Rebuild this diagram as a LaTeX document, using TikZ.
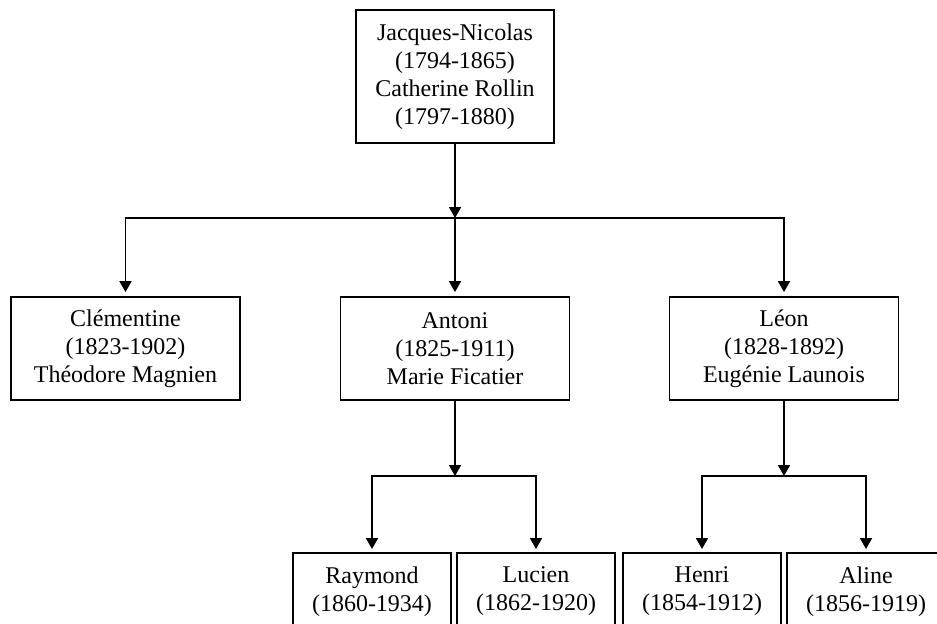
\documentclass[tikz,border=0pt]{standalone}
\usepackage{fontspec}
\setmainfont{Liberation Serif}
\usetikzlibrary{arrows.meta}
\begin{document}
\begin{tikzpicture}[x = 0.5pt,y = -0.5pt,
        every node/.style = {draw = black,line width = 0.9pt,align = center,
            font = \fontsize{12}{14}\selectfont},
        couple/.style = {minimum width = 114.5pt,minimum height = 51.5pt},
        child/.style = {anchor = north,minimum width = 79pt,inner ysep = 7pt},
        link/.style = {line width = 0.9pt,-{Triangle[length = 5.5pt,width = 6pt]}}]
        \useasboundingbox (0,0) rectangle (937,623);
        \clip (0,0) rectangle (937,623);
        \node [minimum width = 99pt,minimum height = 66.5pt] (root) at (455,76.5)
            {Jacques-Nicolas\\(1794-1865)\\Catherine Rollin\\(1797-1880)};
        \node [couple] (clem) at (125.5,348.5) {Cl\'ementine\\(1823-1902)\\Th\'eodore Magnien};
        \node [couple] (antoni) at (455,348.5) {Antoni\\(1825-1911)\\Marie Ficatier};
        \node [couple] (leon) at (784,348.5) {L\'eon\\(1828-1892)\\Eug\'enie Launois};
        \node [child] (raymond) at (372,552) {Raymond\\(1860-1934)};
        \node [child] (lucien) at (536,552) {Lucien\\(1862-1920)};
        \node [child] (henri) at (702,552) {Henri\\(1854-1912)};
        \node [child] (aline) at (866,552) {Aline\\(1856-1919)};
        \coordinate (fork) at (455,218);
        \coordinate (forkA) at (455,476);
        \coordinate (forkL) at (784,476);
        \draw [link] (root) -- (fork);
        \draw [link,shorten > = 2pt] (fork) -| (clem);
        \draw [link,shorten > = 2pt] (fork) -- (antoni);
        \draw [link,shorten > = 2pt] (fork) -| (leon);
        \draw [link] (antoni) -- (forkA);
        \draw [link,shorten > = 1.5pt] (forkA) -| (raymond);
        \draw [link,shorten > = 1.5pt] (forkA) -| (lucien);
        \draw [link] (leon) -- (forkL);
        \draw [link,shorten > = 1.5pt] (forkL) -| (henri);
        \draw [link,shorten > = 1.5pt] (forkL) -| (aline);
    \end{tikzpicture}
\end{document}
